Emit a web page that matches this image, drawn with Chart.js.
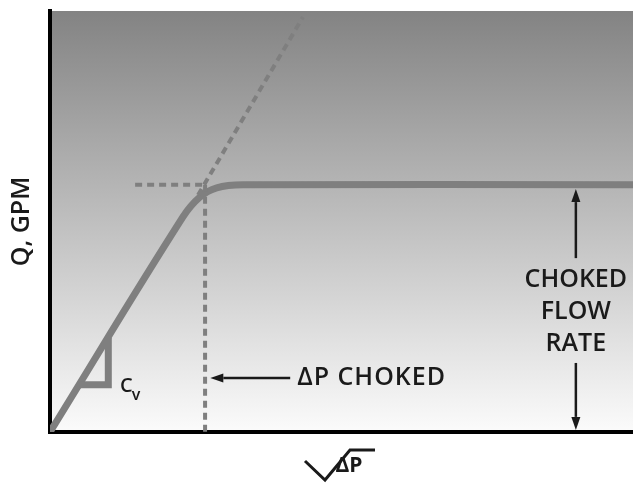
<!DOCTYPE html>
<html>
<head>
<meta charset="utf-8">
<script src="https://cdn.jsdelivr.net/npm/chart.js@4"></script>
<style>
html, body { margin: 0; padding: 0; background: #fff; }
#wrap { width: 633px; height: 490px; }
</style>
</head>
<body>
<div id="wrap"><canvas id="chart"></canvas></div>
<script>
// flow curve: Q against sqrt(dP), arbitrary units 0..10
const flowX = [0, 2.28, 2.57, 2.86, 3.31, 10];
const flowY = [0, 5.11, 5.58, 5.80, 5.87, 5.87];
// dashed extension of the Cv slope
const slopeX = [2.54, 4.34];
const slopeY = [5.63, 9.86];
// dashed level of choked flow
const levelX = [1.46, 2.66];
const levelY = [5.87, 5.87];
// dashed dP choked
const chokeX = [2.66, 2.66];
const chokeY = [5.87, 0];
// little Cv slope triangle
const cvX = [0.50, 1.0, 1.0];
const cvY = [1.12, 1.12, 2.24];

const pts = (xs, ys) => xs.map((x, i) => ({x: x, y: ys[i]}));

const GREY = '#7f7f7f';
const INK = '#1a1a1a';
const FONT = '"Open Sans", "DejaVu Sans", sans-serif';

function arrow(ctx, x1, y1, x2, y2) {
  const ang = Math.atan2(y2 - y1, x2 - x1);
  const len = 13, half = 4.5;
  const bx = x2 - len * Math.cos(ang), by = y2 - len * Math.sin(ang);
  ctx.beginPath();
  ctx.moveTo(x1, y1);
  ctx.lineTo(bx, by);
  ctx.stroke();
  ctx.beginPath();
  ctx.moveTo(x2, y2);
  ctx.lineTo(bx + half * Math.sin(ang), by - half * Math.cos(ang));
  ctx.lineTo(bx - half * Math.sin(ang), by + half * Math.cos(ang));
  ctx.closePath();
  ctx.fill();
}

const notes = {
  id: 'notes',
  beforeDraw(chart) {
    const {ctx, chartArea: a} = chart;
    const g = ctx.createLinearGradient(0, a.top, 0, a.bottom);
    g.addColorStop(0, '#838383');
    g.addColorStop(1, '#fbfbfb');
    ctx.save();
    ctx.fillStyle = g;
    ctx.fillRect(a.left, a.top, a.right - a.left, a.bottom - a.top);
    ctx.restore();
  },
  afterDraw(chart) {
    const {ctx, chartArea: a, scales: {x, y}} = chart;
    ctx.save();
    ctx.fillStyle = INK;
    ctx.strokeStyle = INK;
    ctx.lineWidth = 2.5;
    ctx.textBaseline = 'middle';

    // dP choked arrow + label
    arrow(ctx, x.getPixelForValue(4.12), y.getPixelForValue(1.28),
               x.getPixelForValue(2.75), y.getPixelForValue(1.28));
    ctx.font = '600 25px ' + FONT;
    ctx.textAlign = 'left';
    ctx.letterSpacing = '1px';
    ctx.fillText('\u0394P CHOKED', x.getPixelForValue(4.24), y.getPixelForValue(1.28));
    ctx.letterSpacing = '0px';

    // choked flow rate
    const cx = x.getPixelForValue(9.02);
    arrow(ctx, cx, y.getPixelForValue(4.13), cx, y.getPixelForValue(5.77));
    arrow(ctx, cx, y.getPixelForValue(1.64), cx, y.getPixelForValue(0.05));
    ctx.textAlign = 'center';
    ctx.fillText('CHOKED', cx, y.getPixelForValue(3.61));
    ctx.fillText('FLOW', cx, y.getPixelForValue(2.85));
    ctx.fillText('RATE', cx, y.getPixelForValue(2.09));

    // Cv
    ctx.textAlign = 'left';
    ctx.font = '600 20px ' + FONT;
    const cvx = x.getPixelForValue(1.2), cvy = y.getPixelForValue(1.09);
    ctx.fillText('C', cvx, cvy);
    const cw = ctx.measureText('C').width;
    ctx.font = '600 16px ' + FONT;
    ctx.fillText('v', cvx + cw - 1, cvy + 9);

    // sqrt(dP) axis label
    const mx = (a.left + a.right) / 2;
    ctx.lineWidth = 3;
    ctx.lineJoin = 'miter';
    ctx.beginPath();
    ctx.moveTo(mx - 36.5, 461);
    ctx.lineTo(mx - 16.5, 480);
    ctx.lineTo(mx + 8.5, 450);
    ctx.lineTo(mx + 33.5, 450);
    ctx.stroke();
    ctx.font = '700 21px ' + FONT;
    ctx.textBaseline = 'alphabetic';
    ctx.fillText('\u0394P', mx - 6, 472);
    ctx.restore();
  }
};

const lineSet = (xs, ys, w, dash) => ({
  data: pts(xs, ys),
  borderColor: GREY,
  borderWidth: w,
  borderDash: dash || [],
  pointRadius: 0,
  fill: false,
  tension: 0
});

const flow = lineSet(flowX, flowY, 7);
flow.tension = 0.4;

const config = {
  type: 'scatter',
  data: {
    datasets: [
      lineSet(slopeX, slopeY, 4, [7, 5]),
      lineSet(levelX, levelY, 4, [7, 5]),
      lineSet(chokeX, chokeY, 4, [7, 5]),
      lineSet(cvX, cvY, 7),
      flow
    ]
  },
  options: {
    responsive: true,
    maintainAspectRatio: false,
    animation: false,
    showLine: true,
    layout: {padding: {left: 3, right: 0, top: 11, bottom: 58}},
    plugins: {
      legend: {display: false},
      tooltip: {enabled: false}
    },
    scales: {
      x: {
        type: 'linear', min: 0, max: 10,
        ticks: {display: false},
        grid: {drawOnChartArea: false, drawTicks: false},
        border: {display: true, color: '#000', width: 4}
      },
      y: {
        type: 'linear', min: 0, max: 10,
        ticks: {display: false},
        grid: {drawOnChartArea: false, drawTicks: false},
        border: {display: true, color: '#000', width: 4},
        title: {
          display: true,
          text: 'Q, GPM',
          color: INK,
          font: {family: FONT, size: 25, weight: '600'},
          padding: {top: 4, bottom: 13}
        }
      }
    }
  },
  plugins: [notes]
};

window.onload = function() {
  const ctx = document.getElementById('chart').getContext('2d');
  window.myChart = new Chart(ctx, config);
};
</script>
</body>
</html>
